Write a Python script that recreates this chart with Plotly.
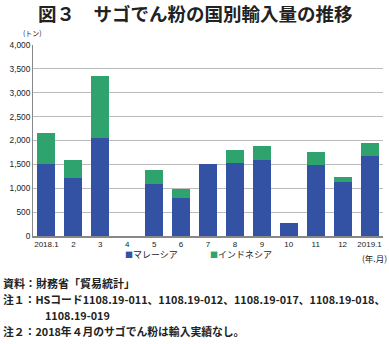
import plotly.graph_objects as go

categories = ["2018.1", "2", "3", "4", "5", "6", "7", "8", "9", "10", "11", "12", "2019.1"]
malaysia = [1501, 1215, 2059, 0, 1082, 789, 1515, 1529, 1592, 272, 1487, 1131, 1675]
indonesia = [656, 384, 1292, 0, 300, 188, 0, 279, 286, 0, 272, 98, 280]
series_names = ["マレーシア", "インドネシア"]
series_colors = ["#3452A4", "#2EA36E"]
y_ticks = [0, 500, 1000, 1500, 2000, 2500, 3000, 3500, 4000]
y_tick_labels = ["0", "500", "1,000", "1,500", "2,000", "2,500", "3,000", "3,500", "4,000"]

W, H = 389, 344
L, R, T, B = 32.5, 383.5, 44.7, 235.7
FONT = "Noto Sans CJK JP"

def px(x):
    return (x - L) / (R - L)

def py(y):
    return (B - y) / (B - T)

fig = go.Figure()
for vals, name, col in zip([malaysia, indonesia], series_names, series_colors):
    fig.add_trace(go.Bar(x=categories, y=vals, name=name,
                         marker=dict(color=col, line=dict(width=0)), width=0.67))

fig.update_layout(
    barmode="stack",
    width=W, height=H,
    margin=dict(l=L, r=W - R, t=T, b=H - B, pad=0),
    paper_bgcolor="white", plot_bgcolor="white",
    font=dict(family=FONT, size=8, color="#222"),
    showlegend=False,
    xaxis=dict(type="category", showgrid=False, ticks="", showline=True,
               linecolor="#888", linewidth=1.5,
               tickfont=dict(size=8, family="Liberation Sans", color="#222")),
    yaxis=dict(range=[0, 4000], tickvals=y_ticks, ticktext=y_tick_labels,
               showgrid=True, gridcolor="#bbb", gridwidth=1,
               showline=True, linecolor="#888", linewidth=1, zeroline=False,
               ticks="", tickfont=dict(size=8.3, family="Liberation Sans", color="#222")),
)

def note(text, x, y, size=10.5, bold=True, xanchor="left", family=FONT, color="#222"):
    t = f"<b>{text}</b>" if bold else text
    fig.add_annotation(text=t, x=px(x), y=py(y), xref="paper", yref="paper",
                       xanchor=xanchor, yanchor="middle", showarrow=False,
                       font=dict(size=size, family=family, color=color))

# manual legend
legend_x = [123, 208]
for lx, name, col in zip(legend_x, series_names, series_colors):
    fig.add_annotation(text=f"<span style='color:{col};font-size:8px'>■</span>{name}",
                       x=px(lx), y=py(254), xref="paper", yref="paper",
                       xanchor="left", yanchor="middle", showarrow=False,
                       font=dict(size=9, family=FONT, color="#222"))

note("図３　サゴでん粉の国別輸入量の推移", 195, 13, size=18.5, xanchor="center")
note("(トン)", 20, 33, size=7, bold=False)
note("(年.月)", 360, 258, size=8.5, bold=False)
note("資料：財務省「貿易統計」", 0, 283, size=11)
note("注１：HSコード1108.19-011、1108.19-012、1108.19-017、1108.19-018、", 0, 299, size=10.8)
note("1108.19-019", 43, 315, size=10.8)
note("注２：2018年４月のサゴでん粉は輸入実績なし。", 0, 331, size=10.8)

fig.write_html("out.html")
